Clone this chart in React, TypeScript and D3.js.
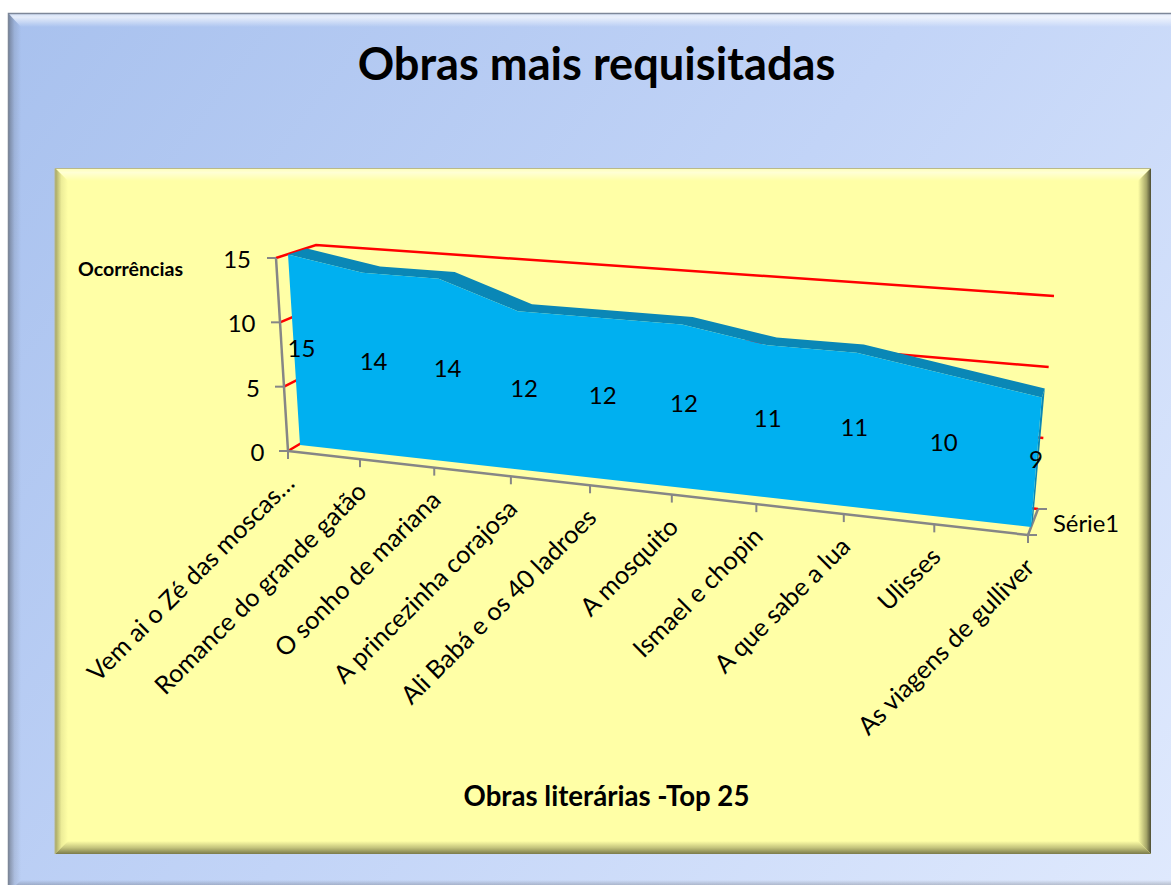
import React from "react";
import * as d3 from "d3";

const categories = [
  "Vem ai o Zé das moscas…",
  "Romance do grande gatão",
  "O sonho de mariana",
  "A princezinha corajosa",
  "Ali Babá e os 40 ladroes",
  "A mosquito",
  "Ismael e chopin",
  "A que sabe a lua",
  "Ulisses",
  "As viagens de gulliver",
];
const values = [15, 14, 14, 12, 12, 12, 11, 11, 10, 9];
const valueTicks = [0, 5, 10, 15];
const seriesName = "Série1";
const title = "Obras mais requisitadas";
const xTitle = "Obras literárias -Top 25";
const yTitle = "Ocorrências";

const FONT = "Lato, Carlito, 'Noto Sans', sans-serif";
const GREY = "#868686";
const RED = "#ff0000";

// perspective along the category axis
const R = 1.16;
const persp = (i: number) => {
  const u = i / (categories.length - 1);
  return u / (u + R * (1 - u));
};
const baseX = d3.scaleLinear().domain([0, 1]).range([300, 1031]);
const baseY = d3.scaleLinear().domain([0, 1]).range([445, 527]);
const unit = d3.scaleLinear().domain([0, 1]).range([12.7, 14.4]);
const lean = d3.scaleLinear().domain([0, 1]).range([-12, 18]);
const depthX = d3.scaleLinear().domain([0, 1]).range([19, 3]);
const depthY = d3.scaleLinear().domain([0, 1]).range([-6, -9]);
const axisX = d3.scaleLinear().domain([0, 1]).range([288, 1028]);
const axisY = d3.scaleLinear().domain([0, 1]).range([451, 535]);

const project = (i: number, v: number, d = 0): [number, number] => {
  const s = persp(i);
  return [
    baseX(s) + (lean(s) * v) / 15 + d * depthX(s),
    baseY(s) - v * unit(s) + d * depthY(s),
  ];
};

// the three vertical edges of the walls
const frontLeftX = d3.scaleLinear().domain([0, 15]).range([288, 276]);
const frontLeftY = d3.scaleLinear().domain([0, 15]).range([451, 258]);
const backLeftX = d3.scaleLinear().domain([0, 15]).range([330, 316]);
const backLeftY = d3.scaleLinear().domain([0, 15]).range([426, 245]);
const backRightX = d3.scaleLinear().domain([0, 15]).range([1038, 1054]);
const backRightY = d3.scaleLinear().domain([0, 15]).range([509, 296]);

const line = d3.line<[number, number]>();
const poly = (p: [number, number][]) => line(p) + "Z";

function App() {
  const idx = values.map((_, i) => i);
  const last = values.length - 1;
  const front = idx.map((i) => project(i, values[i]));
  const back = idx.map((i) => project(i, values[i], 1));
  const facePath = poly([...front, project(last, 0), project(0, 0)]);
  const bandPath = poly([...back, ...[...front].reverse()]);
  const b0 = project(last, 0);
  const sidePath = poly([front[last], back[last], [b0[0] + 2, b0[1] - 7], b0]);

  return (
    <svg
      width={1171}
      height={885}
      viewBox="0 0 1171 885"
      style={{ position: "absolute", left: 0, top: 0, display: "block" }}
      fontFamily={FONT}
    >
      <defs>
        <linearGradient id="bg" gradientUnits="userSpaceOnUse" x1={8} y1={13} x2={1171} y2={885}>
          <stop offset="0" stopColor="#a8c1ee" />
          <stop offset="0.5" stopColor="#c2d4f7" />
          <stop offset="1" stopColor="#dfe9fd" />
        </linearGradient>
        <linearGradient id="outerTop" x1="0" y1="0" x2="0" y2="1">
          <stop offset="0" stopColor="#fff" stopOpacity="0.45" />
          <stop offset="0.3" stopColor="#fff" stopOpacity="0.7" />
          <stop offset="1" stopColor="#fff" stopOpacity="0" />
        </linearGradient>
        <linearGradient id="outerLeft" x1="0" y1="0" x2="1" y2="0">
          <stop offset="0" stopColor="#333" stopOpacity="0.45" />
          <stop offset="0.5" stopColor="#333" stopOpacity="0.12" />
          <stop offset="1" stopColor="#333" stopOpacity="0" />
        </linearGradient>
        <linearGradient id="outerBottom" x1="0" y1="1" x2="0" y2="0">
          <stop offset="0" stopColor="#333" stopOpacity="0.6" />
          <stop offset="1" stopColor="#333" stopOpacity="0" />
        </linearGradient>
        <linearGradient id="panelTop" x1="0" y1="0" x2="0" y2="1">
          <stop offset="0" stopColor="#ffffb8" />
          <stop offset="0.35" stopColor="#ffffd4" />
          <stop offset="1" stopColor="#ffffa6" />
        </linearGradient>
        <linearGradient id="panelLeft" x1="0" y1="0" x2="1" y2="0">
          <stop offset="0" stopColor="#a3a362" />
          <stop offset="0.5" stopColor="#eded98" />
          <stop offset="1" stopColor="#ffffa6" />
        </linearGradient>
        <linearGradient id="panelRight" x1="1" y1="0" x2="0" y2="0">
          <stop offset="0" stopColor="#4d4d33" />
          <stop offset="0.35" stopColor="#a5a568" />
          <stop offset="1" stopColor="#ffffa6" />
        </linearGradient>
        <linearGradient id="panelBottom" x1="0" y1="1" x2="0" y2="0">
          <stop offset="0" stopColor="#7a7a4a" />
          <stop offset="0.5" stopColor="#c6c67e" />
          <stop offset="1" stopColor="#ffffa6" />
        </linearGradient>
      </defs>

      {/* outer frame */}
      <rect x={8} y={13} width={1176} height={880} fill="url(#bg)" />
      <polygon points="8,13 1184,13 1171,27 21,27" fill="url(#outerTop)" />
      <polygon points="8,13 21,27 21,880 8,893" fill="url(#outerLeft)" />
      <polygon points="8,893 21,880 1171,880 1184,893" fill="url(#outerBottom)" />
      <path d="M8.5,893V13.5H1171" fill="none" stroke="#7d8799" strokeWidth={1.5} />

      {/* yellow panel */}
      <rect x={55} y={168} width={1096} height={686} fill="#ffffa6" />
      <polygon points="55,168 1151,168 1138,181 68,181" fill="url(#panelTop)" />
      <polygon points="55,168 68,181 68,841 55,854" fill="url(#panelLeft)" />
      <polygon points="1151,168 1138,181 1138,841 1151,854" fill="url(#panelRight)" />
      <polygon points="55,854 68,841 1138,841 1151,854" fill="url(#panelBottom)" />
      <path d="M55,854V168.5H1151" fill="none" stroke="#b9b98a" strokeWidth={1} />

      <text x={596.5} y={80} textAnchor="middle" fontSize={45.2} fontWeight={700} fill="#000">
        {title}
      </text>

      {/* red gridlines on the walls */}
      {valueTicks.map((v) => (
        <path
          key={v}
          d={
            line([
              [frontLeftX(v), frontLeftY(v)],
              [backLeftX(v), backLeftY(v)],
              [backRightX(v), backRightY(v)],
            ]) as string
          }
          fill="none"
          stroke={RED}
          strokeWidth={2.5}
        />
      ))}

      {/* value axis */}
      <line
        x1={frontLeftX(0)}
        y1={frontLeftY(0)}
        x2={frontLeftX(15)}
        y2={frontLeftY(15)}
        stroke={GREY}
        strokeWidth={2.5}
      />
      {valueTicks.map((v) => (
        <g key={v}>
          <line
            x1={frontLeftX(v) - 9}
            x2={frontLeftX(v)}
            y1={frontLeftY(v)}
            y2={frontLeftY(v)}
            stroke={GREY}
            strokeWidth={2}
          />
          <text
            x={frontLeftX(v) - 25 + (15 - v) * 0.1}
            y={frontLeftY(v) + 10}
            textAnchor="end"
            fontSize={24}
            fill="#000"
          >
            {v}
          </text>
        </g>
      ))}

      {/* category axis */}
      <line
        x1={axisX(0)}
        y1={axisY(0)}
        x2={axisX(1)}
        y2={axisY(1)}
        stroke={GREY}
        strokeWidth={2.5}
      />
      {idx.map((i) => {
        const s = persp(i);
        return (
          <line
            key={i}
            x1={axisX(s)}
            x2={axisX(s)}
            y1={axisY(s)}
            y2={axisY(s) + 8}
            stroke={GREY}
            strokeWidth={2}
          />
        );
      })}

      {/* series depth axis */}
      <line x1={axisX(1)} y1={axisY(1)} x2={backRightX(0)} y2={backRightY(0)} stroke={GREY} strokeWidth={2.5} />
      <line x1={backRightX(0)} y1={backRightY(0)} x2={backRightX(0) + 9} y2={backRightY(0)} stroke={GREY} strokeWidth={2} />
      <line x1={axisX(1)} y1={axisY(1)} x2={axisX(1) + 9} y2={axisY(1)} stroke={GREY} strokeWidth={2} />
      <text x={1053} y={532} fontSize={23.8} fill="#000">
        {seriesName}
      </text>

      {/* 3-D area */}
      <path d={bandPath} fill="#0a87b6" />
      <path d={sidePath} fill="#0a87b6" />
      <path d={facePath} fill="#00b0f0" />

      {/* data labels */}
      {idx.map((i) => {
        const [x, y] = project(i, values[i] / 2, 0.5);
        return (
          <text key={i} x={x - 2} y={y + 10} textAnchor="middle" fontSize={24} fill="#000">
            {values[i]}
          </text>
        );
      })}

      {/* category labels */}
      {categories.map((c, i) => {
        const s = persp(i);
        const x = axisX(s) + 8;
        const y = axisY(s) + 34;
        return (
          <text
            key={c}
            transform={`translate(${x},${y}) rotate(-45)`}
            textAnchor="end"
            fontSize={25.2}
            fill="#000"
          >
            {c}
          </text>
        );
      })}

      <text x={78} y={276} fontSize={19.6} fontWeight={700} fill="#000">
        {yTitle}
      </text>
      <text x={606.5} y={806} textAnchor="middle" fontSize={27.6} fontWeight={700} fill="#000">
        {xTitle}
      </text>
    </svg>
  );
}

export default App;
